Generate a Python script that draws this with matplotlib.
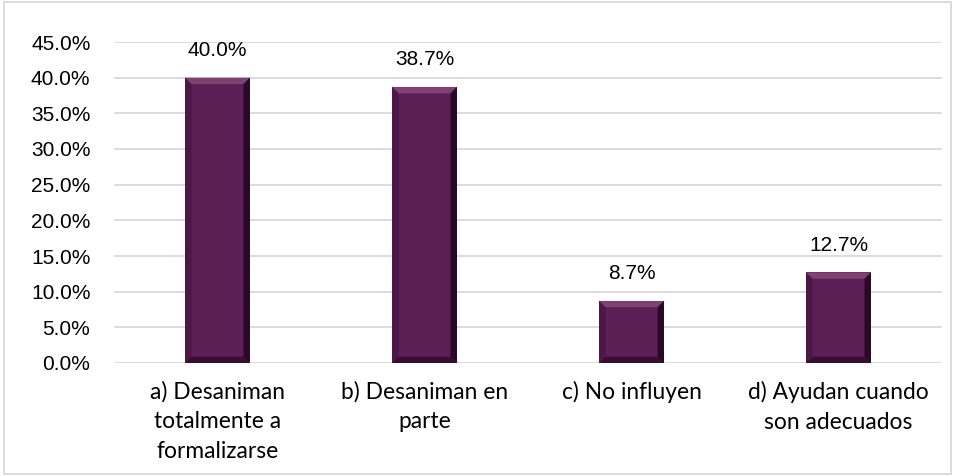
import matplotlib.pyplot as plt
from matplotlib.patches import Polygon, Rectangle
import numpy as np

categories = ['a) Desaniman\ntotalmente a\nformalizarse', 'b) Desaniman en\nparte',
              'c) No influyen', 'd) Ayudan cuando\nson adecuados']
values = [40.0, 38.7, 8.7, 12.7]
yticks = np.arange(0, 50, 5)

num_font = ['Liberation Sans', 'DejaVu Sans']
cat_font = ['Lato', 'DejaVu Sans']
bar_color = '#5b1f55'

fig = plt.figure(figsize=(9.55, 4.76), dpi=100)
ax = fig.add_axes([114 / 955, 1 - 363 / 476, 828 / 955, 321 / 476])
x = np.arange(len(categories))
bars = ax.bar(x, values, width=0.314, color=bar_color, zorder=2)

# bevel: lighter top, darker sides and bottom
for b in bars:
    x0, w, h = b.get_x(), b.get_width(), b.get_height()
    dx = w * 0.1
    dy = 0.9
    ax.add_patch(Polygon([(x0, h), (x0 + w, h), (x0 + w - dx, h - dy), (x0 + dx, h - dy)],
                         closed=True, color='#7d4274', lw=0, zorder=3))
    ax.add_patch(Polygon([(x0, 0), (x0 + w, 0), (x0 + w - dx, dy), (x0 + dx, dy)],
                         closed=True, color='#3a0e34', lw=0, zorder=3))
    ax.add_patch(Polygon([(x0 + w, 0), (x0 + w, h), (x0 + w - dx, h - dy), (x0 + w - dx, dy)],
                         closed=True, color='#2c0828', lw=0, zorder=3))
    ax.add_patch(Polygon([(x0, 0), (x0, h), (x0 + dx, h - dy), (x0 + dx, dy)],
                         closed=True, color='#4b1745', lw=0, zorder=3))
    ax.text(x0 + w / 2, h + 2.5, f'{h:.1f}%', ha='center', va='bottom',
            fontsize=15, family=num_font)

ax.set_ylim(0, 45)
ax.set_xlim(-0.5, len(categories) - 0.5)
ax.set_yticks(yticks)
ax.set_yticklabels([f'{v:.1f}%' for v in yticks], fontsize=15, family=num_font)
ax.set_xticks(x)
ax.set_xticklabels(categories, fontsize=16.4, family=cat_font, linespacing=1.5)
ax.tick_params(axis='y', length=0, pad=17)
ax.tick_params(axis='x', length=0, pad=13)
ax.yaxis.grid(True, color='#d9d9d9', lw=1.3, zorder=0)
for s in ax.spines.values():
    s.set_visible(False)

fig.add_artist(Rectangle((0.004, 0.004), 0.992, 0.992, transform=fig.transFigure,
                         fill=False, edgecolor='#d9d9d9', lw=1.3))
fig.savefig('out.png', dpi=100)
